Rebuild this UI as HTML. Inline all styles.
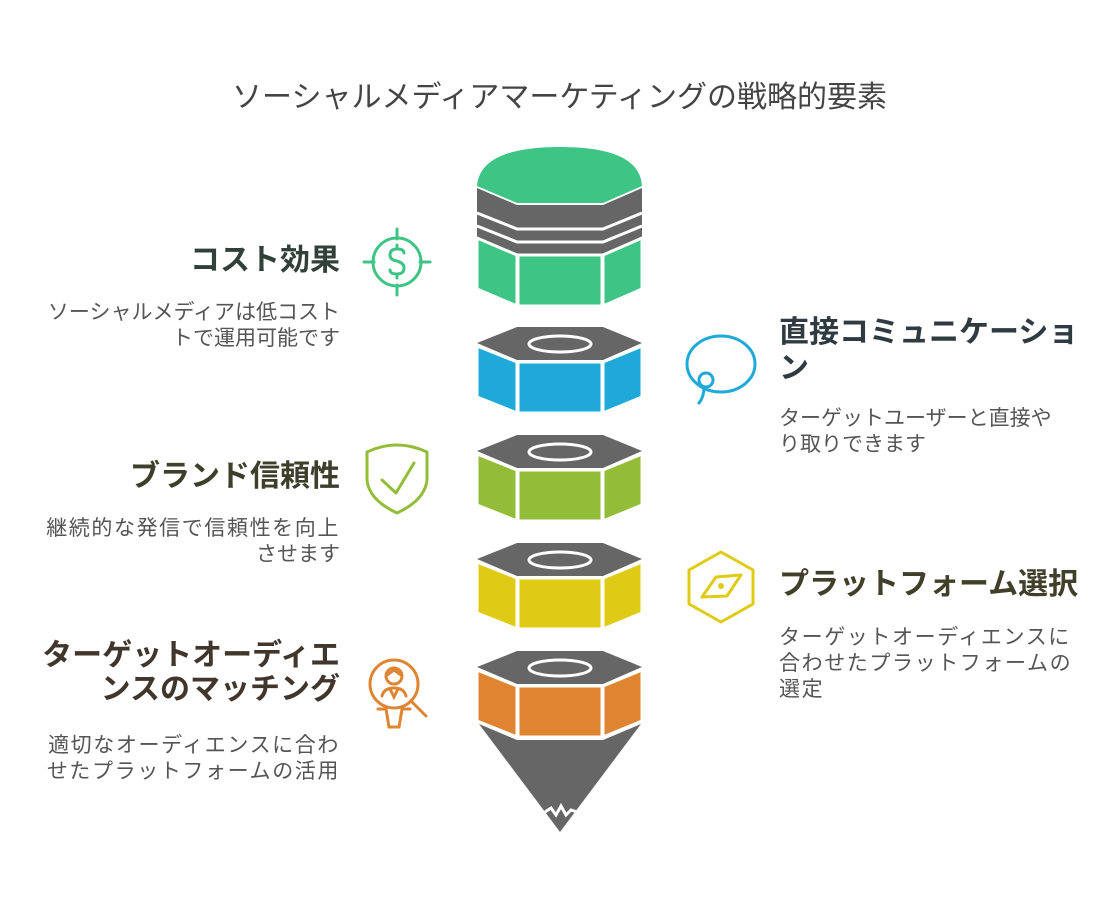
<!DOCTYPE html>
<html><head><meta charset="utf-8"><style>
body{margin:0;width:1119px;height:910px;background:#fff;position:relative;overflow:hidden;font-family:"Liberation Sans","Noto Sans CJK JP",sans-serif}
.t{position:absolute;white-space:nowrap}
.h{font-size:30px;font-weight:bold;line-height:36px}
.d{font-size:21px;line-height:26px;color:#555}
.r{text-align:right;right:779px}
.l{left:779px}
.w{letter-spacing:1.6px}
</style></head><body>
<div class="t" style="left:0;width:1119px;text-align:center;top:72px;font-size:30px;color:#444">ソーシャルメディアマーケティングの戦略的要素</div>

<div class="t h r" style="top:243px;color:#32403a">コスト効果</div>
<div class="t d r" style="top:300px">ソーシャルメディアは低コスト<br>トで運用可能です</div>

<div class="t h r" style="top:459px;color:#3d3f2b">ブランド信頼性</div>
<div class="t d r" style="top:516px"><span class="w">継続的な発信で信頼性を向上</span><br>させます</div>

<div class="t h r" style="top:639px;color:#40362c;line-height:34px">ターゲットオーディエ<br>ンスのマッチング</div>
<div class="t d r w" style="top:733px">適切なオーディエンスに合わ<br>せたプラットフォームの活用</div>

<div class="t h l" style="top:315px;color:#2f3b40">直接コミュニケーショ<br>ン</div>
<div class="t d l" style="top:406px">ターゲットユーザーと直接や<br>り取りできます</div>

<div class="t h l" style="top:567px;color:#40402a">プラットフォーム選択</div>
<div class="t d l w" style="top:625px">ターゲットオーディエンスに<br>合わせたプラットフォームの<br>選定</div>

<svg width="1119" height="910" style="position:absolute;left:0;top:0">
<path d="M477,186 Q480,147 560,147 Q640,147 642,186 L603,203 L517,203 Z" fill="#3ec585"/>
<polygon points="477,188 517,205 603,205 642,188 642,290 603,306 517,306 477,290" fill="#666"/>
<polygon points="477,238 517,255 517,306 477,289" fill="#3ec585" stroke="#fff" stroke-width="3"/>
<rect x="518" y="255" width="84" height="51" fill="#3ec585" stroke="#fff" stroke-width="3"/>
<polygon points="642,238 603,255 603,306 642,289" fill="#3ec585" stroke="#fff" stroke-width="3"/>
<polyline points="477,213 517,229 603,229 642,213" fill="none" stroke="#fff" stroke-width="3"/>
<polyline points="477,226 517,242 603,242 642,226" fill="none" stroke="#fff" stroke-width="3"/>
<rect x="470" y="306" width="180" height="10" fill="#fff"/>
<g>
<polygon points="517,327 603,327 642,343 603,360 517,360 477,343" fill="#666"/>
<ellipse cx="560" cy="344" rx="31" ry="8" fill="none" stroke="#fff" stroke-width="3"/>
<polygon points="477,346 517,362 517,413 477,397" fill="#1fa9d9" stroke="#fff" stroke-width="3"/>
<rect x="518" y="362" width="84" height="51" fill="#1fa9d9" stroke="#fff" stroke-width="3"/>
<polygon points="642,346 603,362 603,413 642,397" fill="#1fa9d9" stroke="#fff" stroke-width="3"/>
</g>
<g transform="translate(0,108)">
<polygon points="517,327 603,327 642,343 603,360 517,360 477,343" fill="#666"/>
<ellipse cx="560" cy="344" rx="31" ry="8" fill="none" stroke="#fff" stroke-width="3"/>
<polygon points="477,346 517,362 517,413 477,397" fill="#93bd38" stroke="#fff" stroke-width="3"/>
<rect x="518" y="362" width="84" height="51" fill="#93bd38" stroke="#fff" stroke-width="3"/>
<polygon points="642,346 603,362 603,413 642,397" fill="#93bd38" stroke="#fff" stroke-width="3"/>
</g>
<g transform="translate(0,216)">
<polygon points="517,327 603,327 642,343 603,360 517,360 477,343" fill="#666"/>
<ellipse cx="560" cy="344" rx="31" ry="8" fill="none" stroke="#fff" stroke-width="3"/>
<polygon points="477,346 517,362 517,413 477,397" fill="#dfcb15" stroke="#fff" stroke-width="3"/>
<rect x="518" y="362" width="84" height="51" fill="#dfcb15" stroke="#fff" stroke-width="3"/>
<polygon points="642,346 603,362 603,413 642,397" fill="#dfcb15" stroke="#fff" stroke-width="3"/>
</g>
<polygon points="479,724 517,740 603,740 641,724 560,832" fill="#666"/>
<polyline points="545,812 551,808 556,815 561,806 566,815 571,810 577,812" fill="none" stroke="#fff" stroke-width="3"/>
<g transform="translate(0,324)">
<polygon points="517,327 603,327 642,343 603,360 517,360 477,343" fill="#666"/>
<ellipse cx="560" cy="344" rx="31" ry="8" fill="none" stroke="#fff" stroke-width="3"/>
<polygon points="477,346 517,362 517,413 477,397" fill="#df8532" stroke="#fff" stroke-width="3"/>
<rect x="518" y="362" width="84" height="51" fill="#df8532" stroke="#fff" stroke-width="3"/>
<polygon points="642,346 603,362 603,413 642,397" fill="#df8532" stroke="#fff" stroke-width="3"/>
</g>
<g fill="none" stroke="#3ec585" stroke-width="3" stroke-linecap="round">
<circle cx="397" cy="262" r="24"/>
<path d="M397,229v10M397,285v10M364,262h10M420,262h10"/>
<path d="M404,253 Q404,249 397,249 Q390,249 390,255 Q390,260 397,261 Q404,263 404,268 Q404,274 397,274 Q390,274 390,270 M397,245v4M397,274v4"/>
</g>
<g fill="none" stroke="#93bd38" stroke-width="3" stroke-linecap="round" stroke-linejoin="round">
<path d="M367,452 Q397,438 427,452 L427,480 Q425,500 397,513 Q369,500 367,480 Z"/>
<path d="M382,480 L396,493 L414,463"/>
</g>
<g fill="none" stroke="#df8532" stroke-width="3" stroke-linecap="round">
<circle cx="394" cy="684" r="24"/>
<circle cx="394" cy="676" r="8"/>
<path d="M387,675 L394,670 L401,675"/>
<path d="M382,696 Q384,688 394,688 Q404,688 406,696 M390,689 L394,697 L398,689"/>
<path d="M411,701 L426,716"/>
<path d="M378,709 h8 l3,18 h10 l3,-18 h8"/>
</g>
<g fill="none" stroke="#1fa9d9" stroke-width="3" stroke-linecap="round">
<ellipse cx="721" cy="364" rx="34" ry="28"/>
<circle cx="706" cy="380" r="7"/>
<path d="M704,387 Q704,397 699,403"/>
</g>
<g fill="none" stroke="#dfcb15" stroke-width="3" stroke-linejoin="round">
<polygon points="721,552 753,570 753,604 721,622 689,604 689,570"/>
<polygon points="716,577 741,575 727,596 702,597"/>
<circle cx="721" cy="586" r="3" fill="#dfcb15" stroke="none"/>
</g>
</svg>
</body></html>
